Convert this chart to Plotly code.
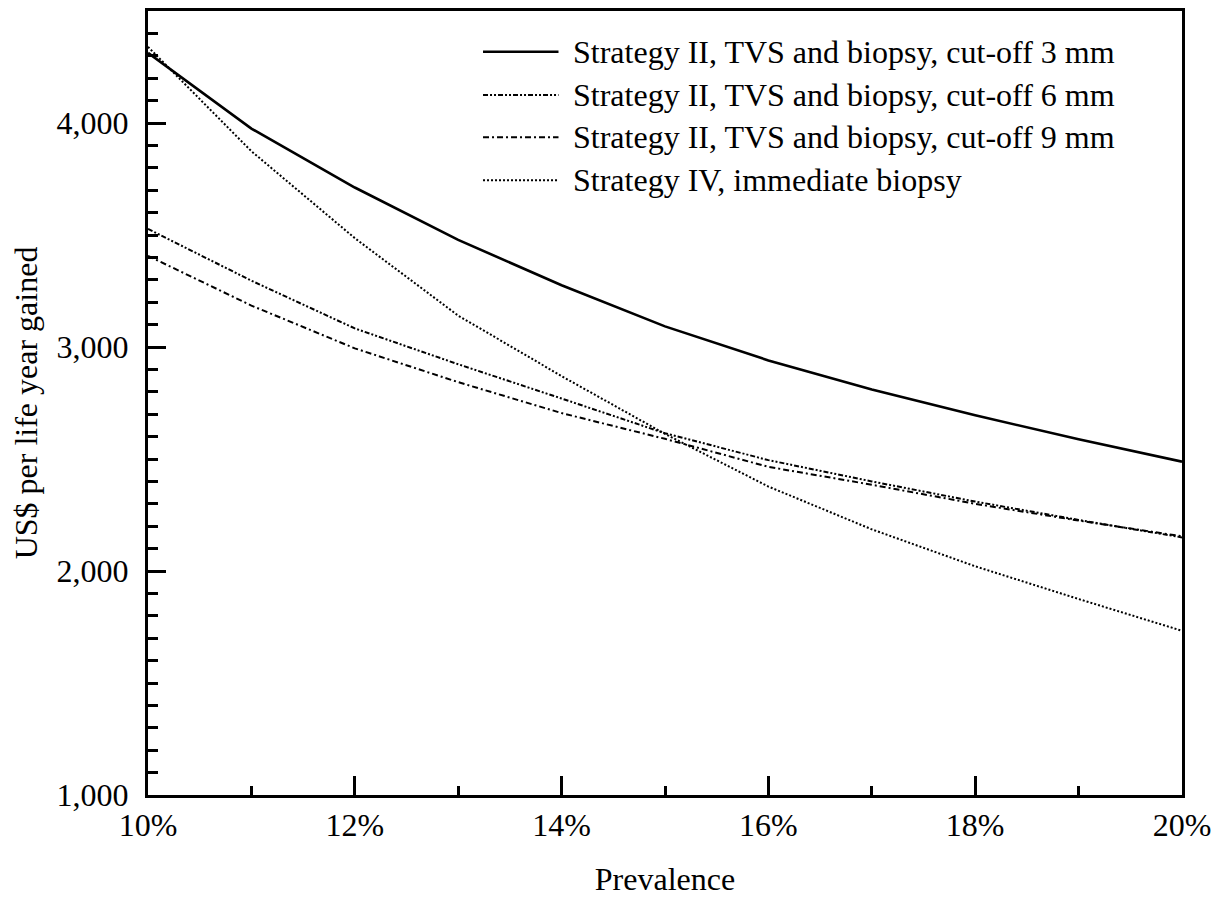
import plotly.graph_objects as go

# Prevalence (%) and cost-effectiveness (US$ per life year gained)
prevalence = [10, 11, 12, 13, 14, 15, 16, 17, 18, 19, 20]
cutoff_3mm = [4313, 3975, 3712, 3478, 3276, 3092, 2940, 2810, 2695, 2588, 2488]
cutoff_6mm = [3527, 3296, 3083, 2923, 2770, 2615, 2495, 2400, 2310, 2228, 2150]
cutoff_9mm = [3407, 3185, 2994, 2843, 2705, 2590, 2465, 2385, 2300, 2225, 2155]
immediate_biopsy = [4340, 3874, 3486, 3140, 2870, 2612, 2377, 2186, 2021, 1875, 1733]

series_names = [
    "Strategy II, TVS and biopsy, cut-off 3 mm",
    "Strategy II, TVS and biopsy, cut-off 6 mm",
    "Strategy II, TVS and biopsy, cut-off 9 mm",
    "Strategy IV, immediate biopsy",
]
series_values = [cutoff_3mm, cutoff_6mm, cutoff_9mm, immediate_biopsy]
line_styles = [
    dict(color="black", width=2.6, dash="solid"),
    dict(color="black", width=2.0, dash="5px,2px,2px,2px,2px,2px"),
    dict(color="black", width=2.0, dash="6px,3px,2px,3px"),
    dict(color="black", width=2.0, dash="2px,2px"),
]

FONT = "Liberation Serif, Times New Roman, serif"
FS = 32

fig = go.Figure()
for name, values, style in zip(series_names, series_values, line_styles):
    fig.add_trace(go.Scatter(x=prevalence, y=values, mode="lines", name=name,
                             line=style, showlegend=False))

# Key in the upper right of the plot: line sample followed by label
key_rows = [0.948, 0.893, 0.839, 0.784]
for name, style, yk in zip(series_names, line_styles, key_rows):
    fig.add_shape(type="line", xref="paper", yref="paper",
                  x0=0.324, x1=0.397, y0=yk, y1=yk,
                  line=dict(color=style["color"], width=style["width"], dash=style["dash"]))
    fig.add_annotation(xref="paper", yref="paper", x=0.409, y=yk,
                       xanchor="left", yanchor="middle", showarrow=False,
                       text=name, font=dict(family=FONT, size=FS, color="black"))

fig.update_layout(
    width=1219, height=909,
    margin=dict(l=148, r=34, t=8, b=114),
    paper_bgcolor="white", plot_bgcolor="white",
    font=dict(family=FONT, size=FS, color="black"),
    showlegend=False,
    xaxis=dict(
        range=[10, 20], dtick=2, tick0=10, ticksuffix="%",
        showgrid=False, zeroline=False,
        showline=True, linecolor="black", linewidth=3, mirror=True,
        ticks="inside", ticklen=19, tickwidth=2.5, tickcolor="black",
        minor=dict(ticks="inside", dtick=1, ticklen=9, tickwidth=2.5, tickcolor="black"),
        title=dict(text="Prevalence", standoff=26, font=dict(family=FONT, size=FS)),
        tickfont=dict(family=FONT, size=FS),
    ),
    yaxis=dict(
        range=[1000, 4500], dtick=1000, tick0=1000, tickformat=",d",
        showgrid=False, zeroline=False,
        showline=True, linecolor="black", linewidth=3, mirror=True,
        ticks="inside", ticklen=18, tickwidth=2.5, tickcolor="black",
        minor=dict(ticks="inside", dtick=100, ticklen=10, tickwidth=2.5, tickcolor="black"),
        ticklabelstandoff=10,
        title=dict(text="US$ per life year gained", standoff=10, font=dict(family=FONT, size=FS)),
        tickfont=dict(family=FONT, size=FS),
    ),
)

fig.write_html("out.html")
